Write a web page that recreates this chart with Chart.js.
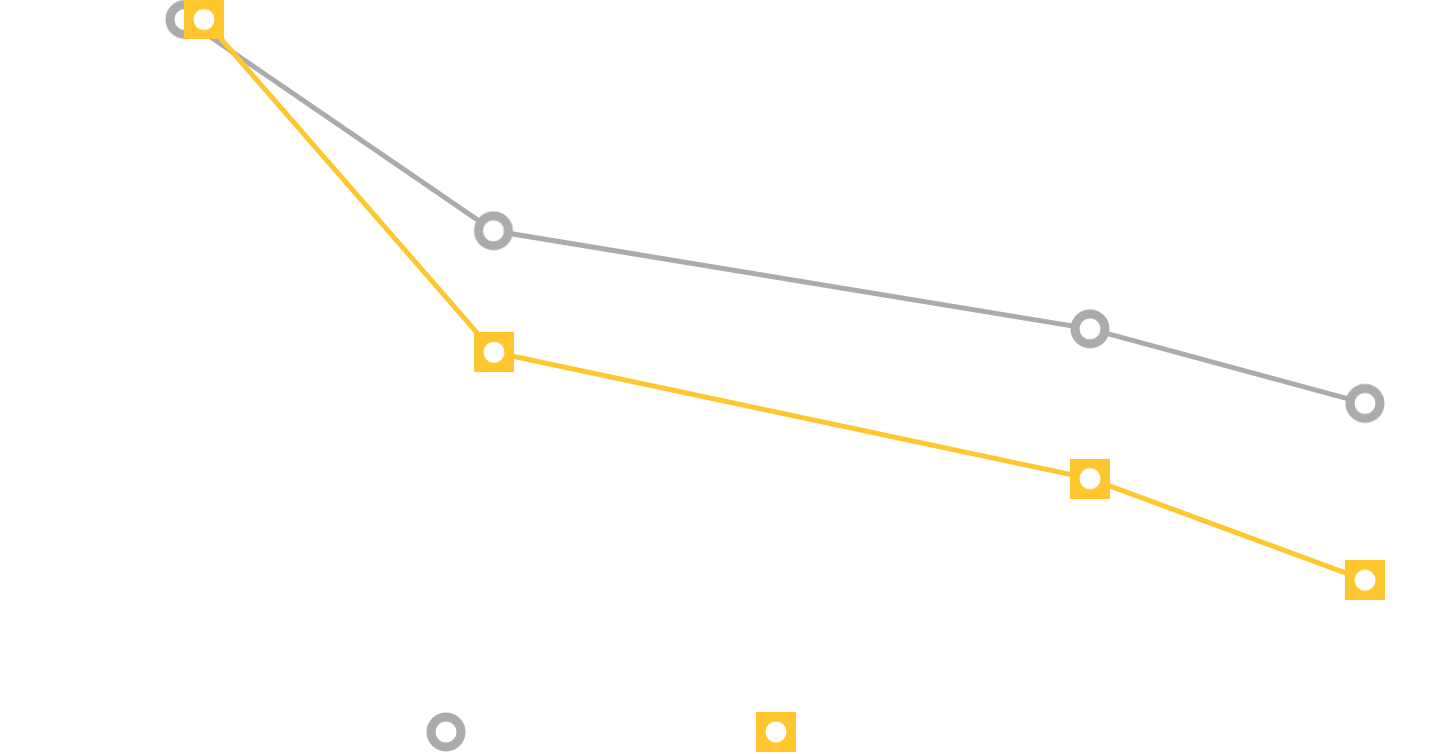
<!DOCTYPE html>
<html>
<head>
<meta charset="utf-8">
<script src="https://cdn.jsdelivr.net/npm/chart.js@4/dist/chart.umd.min.js"></script>
<style>
  html, body { margin: 0; padding: 0; background: #fff; }
  #wrap { width: 1439px; height: 754px; position: relative; }
</style>
</head>
<body>
<div id="wrap"><canvas id="myChart"></canvas></div>
<script>
// values (x and y in chart units)
const grayX = [18.5, 49.35, 109.0, 136.5];
const grayY = [100, 69.4, 55.2, 44.4];
const yellowX = [20.4, 49.4, 109.0, 136.5];
const yellowY = [100, 51.8, 33.5, 18.8];

const gray = "#ABABAD";
const yellow = "#FFC62E";

// marker: grey ring
const ring = document.createElement("canvas");
ring.width = 42;
ring.height = 42;
let c = ring.getContext("2d");
c.beginPath();
c.arc(21, 21, 15, 0, Math.PI * 2);
c.fillStyle = "#fff";
c.fill();
c.lineWidth = 9;
c.strokeStyle = gray;
c.stroke();

// marker: yellow square with white dot
const square = document.createElement("canvas");
square.width = 40;
square.height = 40;
c = square.getContext("2d");
c.fillStyle = yellow;
c.fillRect(0, 0, 40, 40);
c.beginPath();
c.arc(20, 20, 10.5, 0, Math.PI * 2);
c.fillStyle = "#fff";
c.fill();

const toPoints = (xs, ys) => xs.map((x, i) => ({ x: x, y: ys[i] }));

const ctx = document.getElementById("myChart").getContext("2d");
const chart = new Chart(ctx, {
  type: "line",
  data: {
    datasets: [
      {
        label: "",
        data: toPoints(yellowX, yellowY),
        borderColor: yellow,
        backgroundColor: yellow,
        borderWidth: 5,
        pointStyle: square,
        // image markers keep their own size; a big radius only keeps
        // the right-hand points from being culled outside the area
        pointRadius: 150,
        pointBorderWidth: 0,
        tension: 0,
        clip: false,
      },
      {
        label: "",
        data: toPoints(grayX, grayY),
        borderColor: gray,
        backgroundColor: gray,
        borderWidth: 5,
        pointStyle: ring,
        pointRadius: 150,
        pointBorderWidth: 0,
        tension: 0,
        clip: false,
      },
    ],
  },
  options: {
    responsive: true,
    maintainAspectRatio: false,
    animation: false,
    events: [],
    layout: {
      autoPadding: false,
      padding: { left: 0, right: 205, top: 0, bottom: 0 },
    },
    plugins: {
      tooltip: { enabled: false },
      legend: {
        display: true,
        position: "bottom",
        reverse: true,
        labels: {
          usePointStyle: true,
          pointStyleWidth: 308,
          padding: 10,
          font: { size: 24 },
          color: "#fff",
        },
      },
    },
    scales: {
      x: {
        type: "linear",
        display: false,
        min: 0,
        max: 123.4,
      },
      y: {
        display: false,
        min: 0,
        max: 102.82,
      },
    },
  },
});
</script>
</body>
</html>
